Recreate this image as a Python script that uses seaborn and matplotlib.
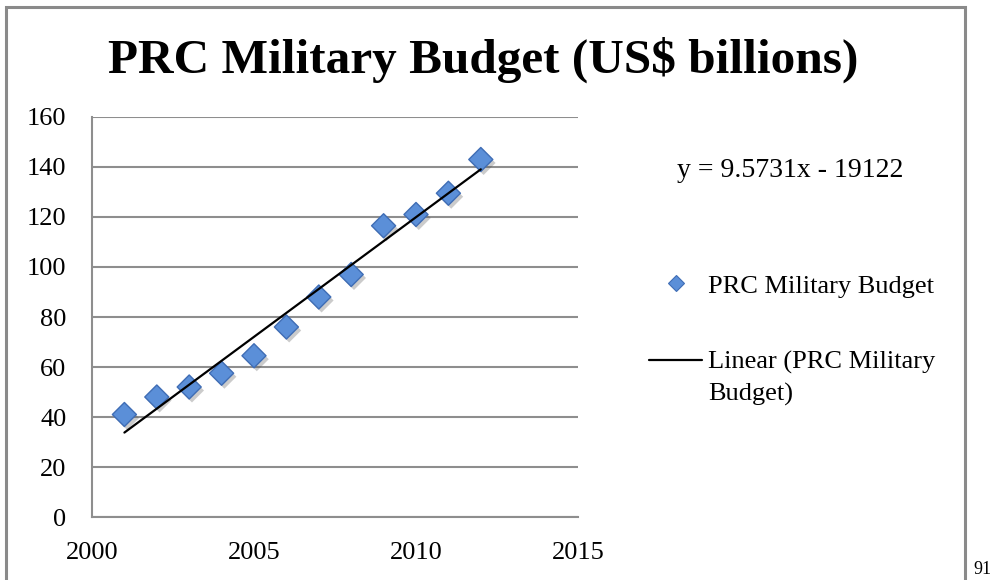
import numpy as np
import pandas as pd
import matplotlib
matplotlib.use("Agg")
import matplotlib.pyplot as plt
import matplotlib.patheffects as pe
from matplotlib.lines import Line2D
from matplotlib.legend_handler import HandlerLine2D
from matplotlib.patches import Rectangle
import seaborn as sns

# PRC military budget, US$ billions
years = [2001, 2002, 2003, 2004, 2005, 2006, 2007, 2008, 2009, 2010, 2011, 2012]
budget = [41, 48, 52, 57.5, 64.5, 76, 88, 97, 116.5, 121, 129.5, 143]

# linear trendline coefficients
slope = 9.5731
intercept = -19122

x_ticks = [2000, 2005, 2010, 2015]
y_ticks = [0, 20, 40, 60, 80, 100, 120, 140, 160]

title = "PRC Military Budget (US$ billions)"
series_name = "PRC Military Budget"
trend_name = "Linear (PRC Military\nBudget)"
equation = "y = 9.5731x - 19122"
page_number = "91"

sns.set_theme(style="white")
plt.rcParams["font.family"] = ["Liberation Serif", "DejaVu Serif"]
plt.rcParams["text.color"] = "black"

W, H = 991, 580
fig = plt.figure(figsize=(W / 100, H / 100), dpi=100)
fig.patch.set_facecolor("white")

ax = fig.add_axes([92 / W, 63 / H, (578 - 92) / W, (517 - 117) / H])
ax.set_facecolor("white")

df = pd.DataFrame({"year": years, "budget": budget})
trend = pd.DataFrame({"year": [min(years), max(years)]})
trend["fit"] = slope * trend["year"] + intercept

grid_color = "#8e8e8e"
for v in y_ticks:
    ax.axhline(v, color=grid_color, lw=1.5, zorder=0)

sns.lineplot(data=trend, x="year", y="fit", ax=ax, color="black", lw=1.6,
             zorder=4, legend=False)

marker_face = "#5b8fd8"
marker_edge = "#3f6db5"
pts = sns.scatterplot(data=df, x="year", y="budget", ax=ax, marker="D", s=150,
                      color=marker_face, edgecolor=marker_edge, linewidth=1.0,
                      zorder=3, legend=False)
pts.collections[-1].set_path_effects([
    pe.SimplePatchShadow(offset=(2, -2.5), shadow_rgbFace="#555555", alpha=0.3),
    pe.Normal(),
])

ax.set_xlim(2000, 2015)
ax.set_ylim(0, 160)
ax.set_xticks(x_ticks)
ax.set_yticks(y_ticks)
ax.set_xlabel("")
ax.set_ylabel("")
for side in ("top", "right"):
    ax.spines[side].set_visible(False)
for side in ("left", "bottom"):
    ax.spines[side].set_color(grid_color)
    ax.spines[side].set_linewidth(1.5)
ax.tick_params(axis="both", which="major", direction="out", colors=grid_color,
               width=1.5, labelcolor="black", labelsize=19)
ax.tick_params(axis="y", length=6.5, pad=12)
ax.tick_params(axis="x", length=6, pad=12)
ax.grid(False)

# chart frame
fig.patches.append(Rectangle((6 / W, -0.05), (965 - 6) / W, 1 - 7 / H + 0.05,
                             transform=fig.transFigure, fill=False,
                             edgecolor="#8a8a8a", lw=2.2, zorder=0))

fig.text(483 / W, 1 - 73 / H, title, ha="center", va="baseline",
         fontsize=35.5, fontweight="bold", color="black")

fig.text(677 / W, 1 - 177 / H, equation, ha="left", va="baseline",
         fontsize=20, color="black")


class RaisedLineHandler(HandlerLine2D):
    """Line handle aligned with the first row of a wrapped label."""

    def __init__(self, dy, **kw):
        super().__init__(**kw)
        self.dy = dy

    def create_artists(self, legend, orig_handle, xdescent, ydescent, width,
                       height, fontsize, trans):
        return super().create_artists(legend, orig_handle, xdescent,
                                      ydescent - self.dy, width, height,
                                      fontsize, trans)


h_pts = Line2D([], [], ls="none", marker="D", markersize=8.5,
               markerfacecolor=marker_face, markeredgecolor=marker_edge,
               markeredgewidth=0.8)
h_line = Line2D([], [], color="black", lw=1.6)
leg = fig.legend([h_pts, h_line], [series_name, trend_name],
                 loc="upper left", bbox_to_anchor=(636 / W, 1 - 261 / H),
                 frameon=False, fontsize=19, handlelength=2.0,
                 handletextpad=0.22, labelspacing=2.0, borderpad=0,
                 handler_map={h_line: RaisedLineHandler(dy=26)})
for t in leg.get_texts():
    t.set_color("black")
    t.set_linespacing(1.55)

fig.text(973 / W, 1 - 574 / H, page_number, ha="left", va="baseline",
         fontsize=13, color="black")

fig.savefig("out.png", dpi=100)
